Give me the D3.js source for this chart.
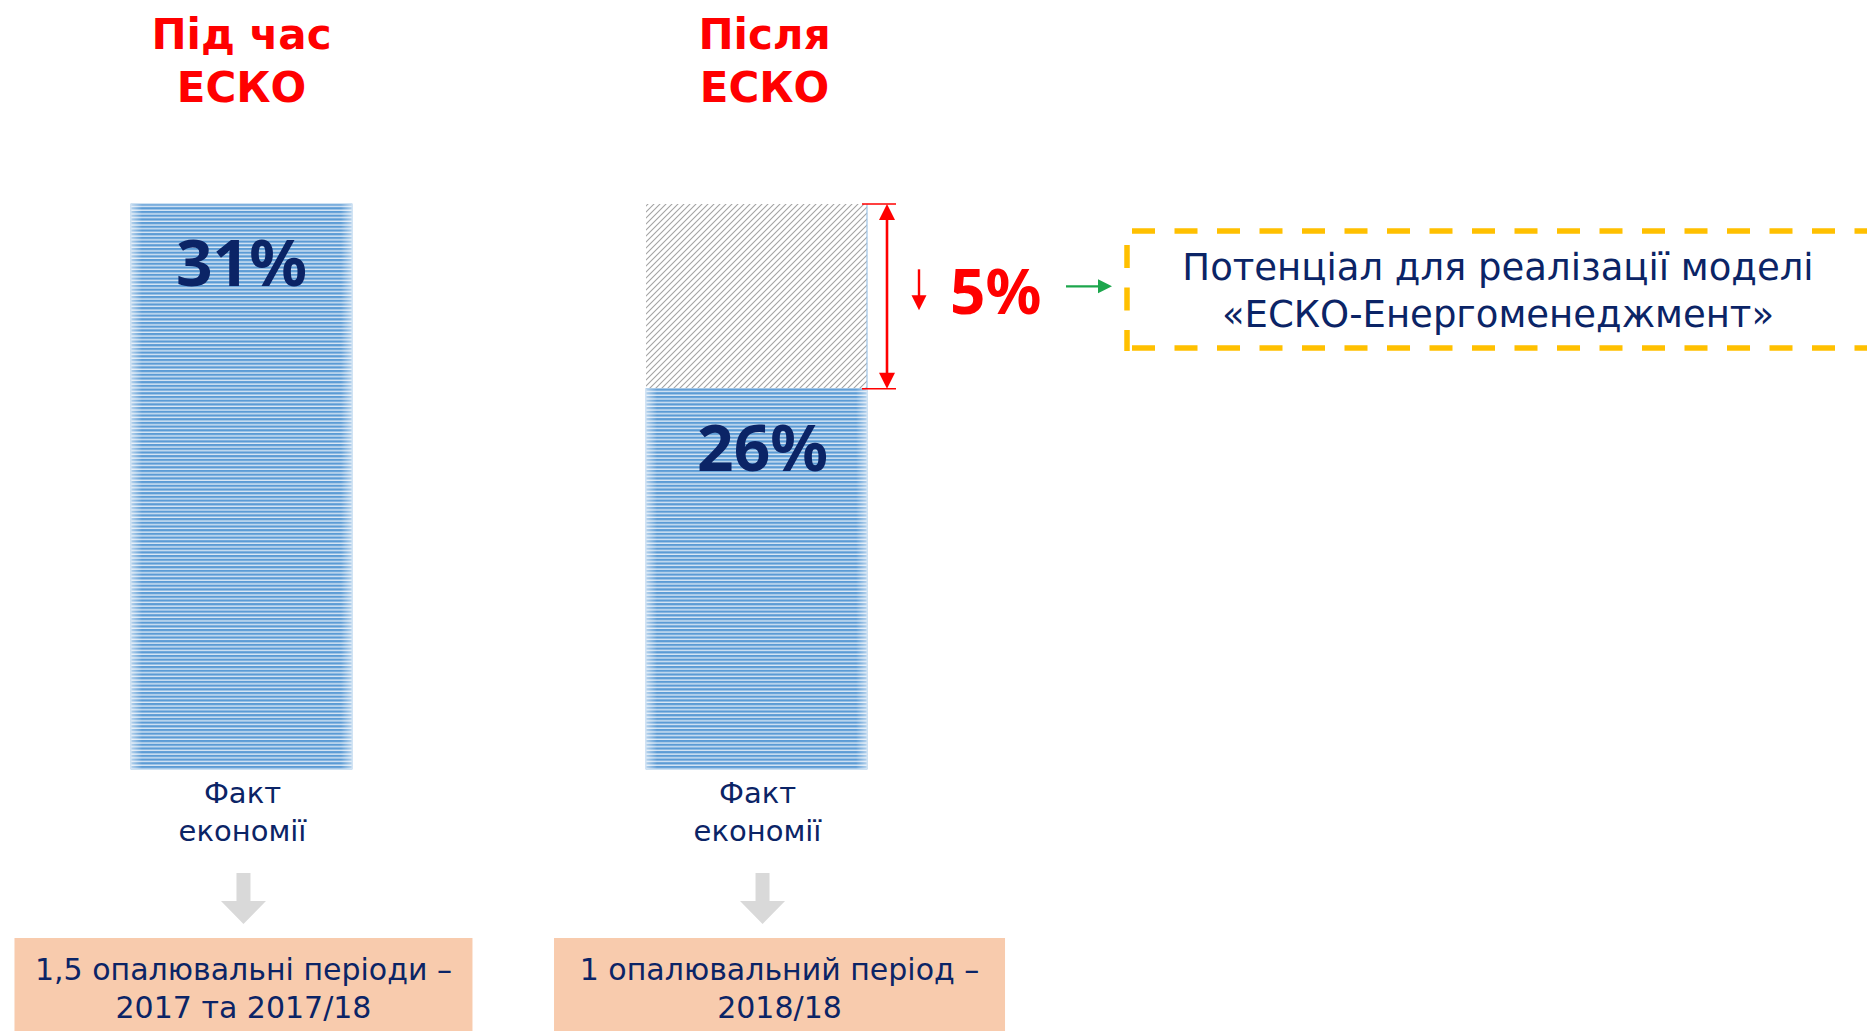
<!DOCTYPE html>
<html>
<head>
<meta charset="utf-8">
<script src="https://cdn.jsdelivr.net/npm/d3@7"></script>
<style>
  html, body { margin: 0; padding: 0; background: #fff; }
  svg { display: block; }
  text { font-family: "DejaVu Sans", "Noto Sans", sans-serif; }
  text.num { font-family: "Noto Sans", "DejaVu Sans", sans-serif; }
</style>
</head>
<body>
<script>
// дані
const columns = ["Під час ЕСКО", "Після ЕСКО"]
const titleLines = [["Під час", "ЕСКО"], ["Після", "ЕСКО"]]
const savings = [31, 26]          // факт економії, %
const potential = [0, 5]          // потенціал, %
const factLines = ["Факт", "економії"]
const periodLines = [
    ["1,5 опалювальні періоди –", "2017 та 2017/18"],
    ["1 опалювальний період –", "2018/18"]
]
const potentialText = ["Потенціал для реалізації моделі", "«ЕСКО-Енергоменеджмент»"]

const width = 1867, height = 1031
const navy = "#0b2466", red = "#ff0000"

const svg = d3.select("body").append("svg")
    .attr("width", width)
    .attr("height", height)

const defs = svg.append("defs")

// смужки для синіх стовпців
const stripes = defs.append("pattern")
    .attr("id", "stripes")
    .attr("patternUnits", "userSpaceOnUse")
    .attr("width", 8).attr("height", 3.7)
stripes.append("rect").attr("width", 8).attr("height", 3.7).attr("fill", "#dce9f6")
stripes.append("rect").attr("width", 8).attr("height", 2.3).attr("fill", "#5b9bd5")

// штрихування для потенціалу
const hatch = defs.append("pattern")
    .attr("id", "hatch")
    .attr("patternUnits", "userSpaceOnUse")
    .attr("width", 6).attr("height", 6)
hatch.append("path")
    .attr("d", "M-1,1 l2,-2 M0,6 l6,-6 M5,7 l2,-2")
    .attr("stroke", "#a3a3a3")
    .attr("stroke-width", 1.1)

const edge = defs.append("linearGradient").attr("id", "edge")
edge.append("stop").attr("offset", 0).attr("stop-color", "#fff").attr("stop-opacity", 0.55)
edge.append("stop").attr("offset", 0.05).attr("stop-color", "#fff").attr("stop-opacity", 0)
edge.append("stop").attr("offset", 0.95).attr("stop-color", "#fff").attr("stop-opacity", 0)
edge.append("stop").attr("offset", 1).attr("stop-color", "#fff").attr("stop-opacity", 0.55)

const x = d3.scaleBand()
    .domain(columns)
    .range([131, 867])
    .paddingInner(0.571)
    .paddingOuter(0)

// вісь не з нуля, як на слайді
const y = d3.scaleLinear()
    .domain([15.7, 31])
    .range([769, 204])

const cx = d => x(d) + x.bandwidth()/2
const titleShift = [0, 8]
const labelShift = [0, 6]
const boxShift = [2, 23]

// заголовки
columns.forEach((c,i)=>{
    titleLines[i].forEach((t,j)=>{
        svg.append("text")
            .attr("x", cx(c) + titleShift[i])
            .attr("y", 49 + j*53)
            .attr("text-anchor", "middle")
            .attr("fill", red)
            .attr("font-weight", 700)
            .attr("font-size", 42)
            .text(t)
    })
})

// потенціал (заштрихована частина)
columns.forEach((c,i)=>{
    if(!potential[i]) return
    svg.append("rect")
        .attr("x", x(c))
        .attr("y", y(savings[i] + potential[i]))
        .attr("width", x.bandwidth())
        .attr("height", y(savings[i]) - y(savings[i] + potential[i]))
        .attr("fill", "url(#hatch)")
    svg.append("line")
        .attr("x1", x(c) + x.bandwidth()).attr("x2", x(c) + x.bandwidth())
        .attr("y1", y(savings[i] + potential[i])).attr("y2", y(savings[i]))
        .attr("stroke", "#9dc3e6").attr("stroke-width", 1.2)
})

// стовпці
const bars = svg.append("g")
bars.selectAll("rect.bar")
    .data(columns)
    .join("rect")
    .attr("class", "bar")
    .attr("x", d=>x(d))
    .attr("y", (d,i)=>y(savings[i]))
    .attr("width", x.bandwidth())
    .attr("height", (d,i)=>y.range()[0] - y(savings[i]))
    .attr("fill", "url(#stripes)")
    .attr("stroke", "#9dc3e6")
    .attr("stroke-width", 1)
bars.selectAll("rect.edge")
    .data(columns)
    .join("rect")
    .attr("class", "edge")
    .attr("x", d=>x(d))
    .attr("y", (d,i)=>y(savings[i]))
    .attr("width", x.bandwidth())
    .attr("height", (d,i)=>y.range()[0] - y(savings[i]))
    .attr("fill", "url(#edge)")

bars.selectAll("text")
    .data(columns)
    .join("text")
    .attr("class", "num")
    .attr("x", (d,i)=>cx(d) + labelShift[i])
    .attr("y", (d,i)=>y(savings[i]) + 82)
    .attr("text-anchor", "middle")
    .attr("font-weight", 700)
    .attr("font-size", 64)
    .attr("fill", navy)
    .text((d,i)=>`${savings[i]}%`)

// "Факт економії"
columns.forEach((c,i)=>{
    factLines.forEach((t,j)=>{
        svg.append("text")
            .attr("x", cx(c) + 1)
            .attr("y", y.range()[0] + 34 + j*38)
            .attr("text-anchor", "middle")
            .attr("fill", navy)
            .attr("font-size", 29)
            .text(t)
    })
})

// сірі стрілки вниз
columns.forEach((c,i)=>{
    const ax = cx(c) + (i ? 6 : 2)
    svg.append("path")
        .attr("d", `M${ax-7},873 H${ax+7} V901 H${ax+22.5} L${ax},924 L${ax-22.5},901 H${ax-7} Z`)
        .attr("fill", "#d9d9d9")
})

// помаранчеві блоки з періодами
const boxW = [458, 451]
columns.forEach((c,i)=>{
    const bx = cx(c) + boxShift[i]
    svg.append("rect")
        .attr("x", bx - boxW[i]/2)
        .attr("y", 938)
        .attr("width", boxW[i])
        .attr("height", 120)
        .attr("fill", "#f8cbad")
    periodLines[i].forEach((t,j)=>{
        svg.append("text")
            .attr("x", bx)
            .attr("y", 980 + j*38)
            .attr("text-anchor", "middle")
            .attr("fill", navy)
            .attr("font-size", 30)
            .text(t)
    })
})

// позначка потенціалу
const c2 = columns[1]
const yTop = y(savings[1] + potential[1]), yBot = y(savings[1])
const mx = x(c2) + x.bandwidth() + 20
const mark = svg.append("g").attr("stroke", red).attr("fill", red)
mark.append("line").attr("x1", mx-25).attr("x2", mx+9).attr("y1", yTop).attr("y2", yTop).attr("stroke-width", 1.5)
mark.append("line").attr("x1", mx-25).attr("x2", mx+9).attr("y1", yBot).attr("y2", yBot).attr("stroke-width", 1.5)
mark.append("line").attr("x1", mx).attr("x2", mx).attr("y1", yTop+14).attr("y2", yBot-14).attr("stroke-width", 2.6)
mark.append("path").attr("stroke", "none").attr("d", `M${mx},${yTop} l8,16 h-16 Z`)
mark.append("path").attr("stroke", "none").attr("d", `M${mx},${yBot} l8,-16 h-16 Z`)

const ym = (yTop + yBot)/2
// маленька стрілка вниз
mark.append("line").attr("x1", mx+32).attr("x2", mx+32).attr("y1", ym-27).attr("y2", ym+2).attr("stroke-width", 2.4)
mark.append("path").attr("stroke", "none").attr("d", `M${mx+32},${ym+14} l-7.5,-15 h15 Z`)

svg.append("text")
    .attr("class", "num")
    .attr("x", mx + 63)
    .attr("y", ym + 18)
    .attr("fill", red)
    .attr("font-weight", 700)
    .attr("font-size", 62)
    .text(`${potential[1]}%`)

// зелена стрілка
const ga = svg.append("g").attr("fill", "#1ca64c").attr("stroke", "#1ca64c")
ga.append("line").attr("x1", 1066).attr("x2", 1100).attr("y1", ym-10).attr("y2", ym-10).attr("stroke-width", 2.2)
ga.append("path").attr("stroke", "none").attr("d", `M1112,${ym-10} l-14,-7 v14 Z`)

// жовта пунктирна рамка
const boxL = 1127, boxT = 231, boxB = 348
const dash = svg.append("g")
    .attr("stroke", "#ffc000")
    .attr("stroke-width", 5.5)
    .attr("stroke-dasharray", "23 19.5")
dash.append("line").attr("x1", boxL).attr("x2", width+20).attr("y1", boxT).attr("y2", boxT).attr("stroke-dashoffset", 37.5)
dash.append("line").attr("x1", boxL).attr("x2", width+20).attr("y1", boxB).attr("y2", boxB).attr("stroke-dashoffset", 37.5)
dash.append("line").attr("x1", boxL).attr("x2", boxL).attr("y1", boxT).attr("y2", boxB+3).attr("stroke-dashoffset", 28.5)

potentialText.forEach((t,j)=>{
    svg.append("text")
        .attr("x", 1498)
        .attr("y", 280 + j*47)
        .attr("text-anchor", "middle")
        .attr("fill", navy)
        .attr("font-size", 37)
        .text(t)
})
</script>
</body>
</html>
